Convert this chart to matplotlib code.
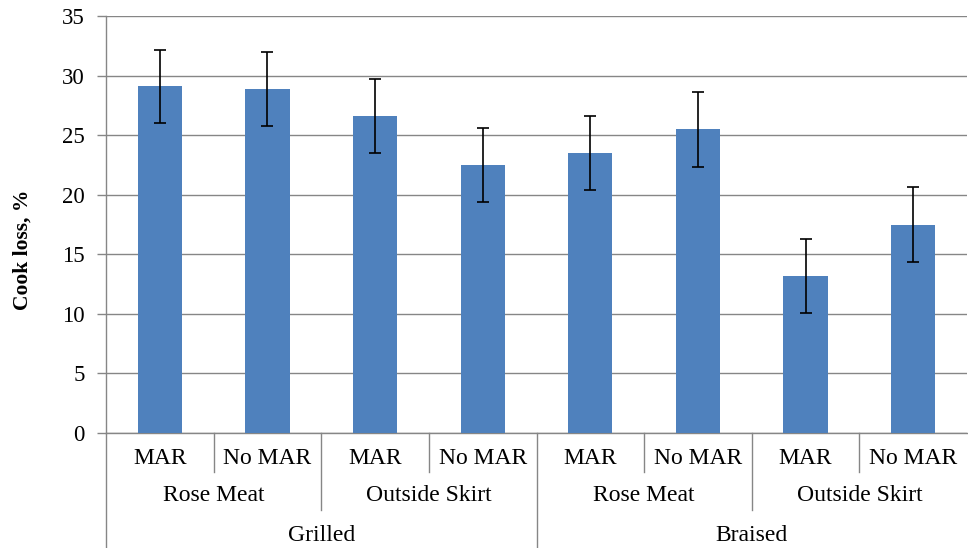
import numpy as np
import matplotlib.pyplot as plt

methods = ["Grilled", "Braised"]
cuts = ["Rose Meat", "Outside Skirt"]
treatments = ["MAR", "No MAR"]
cook_loss = [29.1, 28.9, 26.6, 22.5, 23.5, 25.5, 13.2, 17.5]
cook_loss_err = [3.05, 3.1, 3.1, 3.1, 3.1, 3.15, 3.1, 3.15]

plt.rcParams['font.family'] = ['Liberation Serif', 'DejaVu Serif']

fig = plt.figure(figsize=(9.68, 5.48), dpi=100)
ax = fig.add_axes([106 / 968, 1 - 433 / 548, 861 / 968, 417 / 548])

grey = '#868686'
x = np.arange(len(cook_loss))
ax.bar(x, cook_loss, width=0.41, color='#4F81BD', zorder=3)
ax.errorbar(x, cook_loss, yerr=cook_loss_err, fmt='none', ecolor='black',
            elinewidth=1.2, capsize=4.5, capthick=1.2, zorder=4)

ax.set_xlim(-0.5, len(cook_loss) - 0.5)
ax.set_ylim(0, 35)
ax.set_yticks(np.arange(0, 36, 5))
ax.yaxis.grid(True, color=grey, linewidth=1, zorder=0)
ax.set_axisbelow(True)
ax.set_xticks([])
ax.tick_params(axis='y', labelsize=16.5, color=grey, length=6.5, width=1, pad=9)
for side in ['top', 'right']:
    ax.spines[side].set_visible(False)
for side in ['left', 'bottom']:
    ax.spines[side].set_color(grey)
    ax.spines[side].set_linewidth(1)

ax.set_ylabel("Cook loss, %", fontsize=15.5, fontweight='bold')
ax.yaxis.set_label_coords(-0.085, 0.44)

# hierarchical category labels below the axis
tr = ax.get_xaxis_transform()
row_y = [-0.062, -0.151, -0.245]
fs = 17
for i in range(len(cook_loss)):
    ax.text(i, row_y[0], treatments[i % 2], transform=tr, ha='center',
            va='center', fontsize=fs)
for j in range(len(methods) * len(cuts)):
    ax.text(2 * j + 0.5, row_y[1], cuts[j % 2], transform=tr, ha='center',
            va='center', fontsize=fs)
for k, m in enumerate(methods):
    ax.text(4 * k + 1.5, row_y[2], m, transform=tr, ha='center',
            va='center', fontsize=fs)

line_kw = dict(transform=tr, color=grey, linewidth=1, clip_on=False)
for xb in [0.5, 2.5, 4.5, 6.5]:
    ax.plot([xb, xb], [0, -0.094], **line_kw)
for xb in [1.5, 5.5]:
    ax.plot([xb, xb], [0, -0.185], **line_kw)
for xb in [-0.5, 3.5]:
    ax.plot([xb, xb], [0, -0.3], **line_kw)

fig.savefig("out.png", dpi=100)
